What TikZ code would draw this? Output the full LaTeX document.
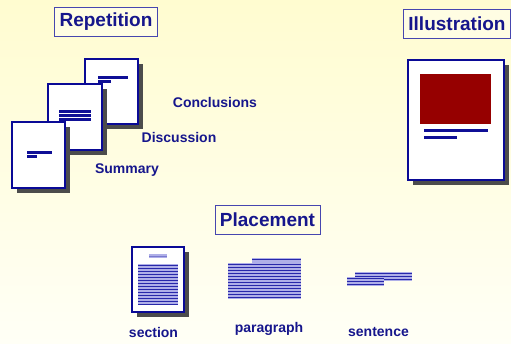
\documentclass[tikz,border=0pt]{standalone}
\usepackage{fontspec}
\setmainfont{Liberation Sans}
\usetikzlibrary{shadows}
\definecolor{textblue}{RGB}{22,22,140}
\definecolor{boxblue}{RGB}{70,70,175}
\definecolor{pageblue}{RGB}{10,10,150}
\definecolor{barblue}{RGB}{15,15,150}
\definecolor{ruleblue}{RGB}{40,40,170}
\definecolor{paleblue}{RGB}{175,175,232}
\definecolor{figred}{RGB}{150,0,0}
\definecolor{bgtop}{RGB}{255,252,208}
\definecolor{bgbot}{RGB}{255,255,246}
\tikzset{%
    page/.style={draw=pageblue,line width=1.5pt,fill=white,
        drop shadow={shadow xshift=5pt,shadow yshift=-5pt,fill=black!70,opacity=1}}
}

\begin{document}
\begin{tikzpicture}[
        x=1pt, y=-1pt,
        title/.style={draw=boxblue,line width=0.8pt,fill=white!40!bgtop,text=textblue,
            font=\bfseries\fontsize{19}{19}\selectfont,minimum height=29pt,inner xsep=5pt},
        lbl/.style={text=textblue,font=\bfseries\fontsize{14}{14}\selectfont},
        bar/.style={draw=barblue,line width=3pt},
        rule/.style={draw=ruleblue,line width=1pt}
        ]
        \useasboundingbox (0,0) rectangle (511,343);
        \clip (0,0) rectangle (511,343);
        \shade[top color=bgtop,bottom color=bgbot] (0,0) rectangle (511,343);

        % titles
        \node[title] (rep) at (106,22) {Repetition};
        \node[title,anchor=west] (ill) at (403,23.5) {Illustration};
        \node[title] (plc) at (267.5,220) {Placement};

        % repetition pages
        \node[page,minimum width=53pt,minimum height=65pt] (concl) at (111.5,91.5) {};
        \draw[bar] (98,77) -- (128,77);
        \draw[bar] (98,81) -- (111,81);
        \node[page,minimum width=54pt,minimum height=66pt] (disc) at (75,117) {};
        \draw[bar] (59,111) -- (91,111);
        \draw[bar] (59,115) -- (91,115);
        \draw[bar] (59,119) -- (91,119);
        \node[page,minimum width=53pt,minimum height=66pt] (summ) at (38.5,155) {};
        \draw[bar] (27,152) -- (52,152);
        \draw[bar] (27,156) -- (37,156);

        \node[lbl] (lconcl) at (215,102) {Conclusions};
        \node[lbl] (ldisc) at (179,137) {Discussion};
        \node[lbl] (lsumm) at (127,170) {Summary};

        % illustration page
        \node[page,minimum width=96pt,minimum height=120pt] (fig) at (456,120) {};
        \fill[figred] (420,74) rectangle (491,124);
        \draw[bar] (424,130) -- (488,130);
        \draw[bar] (424,137) -- (457,137);

        % placement
        \node[page,minimum width=52pt,minimum height=65pt] (sect) at (158,279.5) {};
        \fill[paleblue] (149,254) rectangle (167,258);
        \draw[rule,draw=paleblue!60!ruleblue] (149,256) -- (167,256);
        \fill[paleblue] (138,264) rectangle (178,304);
        \foreach \y in {265,268,...,304} \draw[rule] (138,\y) -- (178,\y);

        \fill[paleblue] (252,258) rectangle (301,263);
        \draw[rule] (252,259.5) -- (301,259.5);
        \fill[paleblue] (228,263) rectangle (301,299);
        \foreach \y in {264,267,...,299} \draw[rule] (228,\y) -- (301,\y);

        \fill[paleblue] (355,272) rectangle (412,281);
        \foreach \y in {273,276,279} \draw[rule] (355,\y) -- (412,\y);
        \fill[paleblue] (347,277) rectangle (384,286);
        \foreach \y in {278,281,284} \draw[rule] (347,\y) -- (384,\y);

        \node[lbl] (lsect) at (153.5,332) {section};
        \node[lbl] (lpar) at (269,329) {paragraph};
        \node[lbl] (lsent) at (378.5,332) {sentence};
    \end{tikzpicture}
\end{document}
